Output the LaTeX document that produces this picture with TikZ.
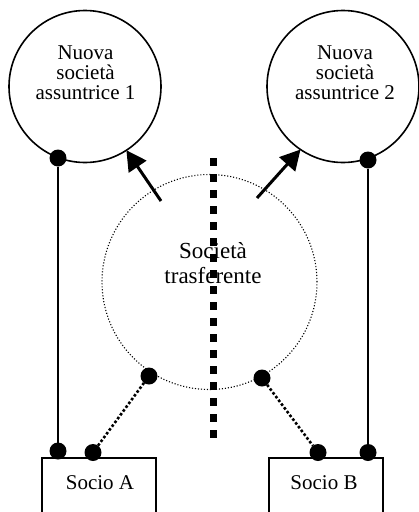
\documentclass[tikz,border=0pt]{standalone}
\usepackage{fontspec}
\setmainfont{Liberation Serif}
\usetikzlibrary{arrows.meta}
\begin{document}
\begin{tikzpicture}[x=1pt,y=-1pt,
  company/.style={circle, draw, line width=1.6pt, minimum size=152pt, inner sep=0pt, outer sep=0pt},
  transferor/.style={circle, draw, line width=1.1pt, dash pattern=on 1.1pt off 1.9pt, minimum size=215pt, inner sep=0pt, outer sep=0pt},
  partner/.style={rectangle, draw, line width=1.6pt, minimum width=114pt, minimum height=70pt, anchor=north, inner sep=0pt},
  joint/.style={circle, fill, minimum size=17pt, inner sep=0pt, outer sep=0pt},
  txt/.style={font=\fontsize{21}{20}\selectfont, align=center, inner sep=0pt},
  bigtxt/.style={font=\fontsize{23}{25}\selectfont, align=center, inner sep=0pt},
  holding/.style={line width=1.6pt},
  share/.style={line width=2.6pt, dash pattern=on 2.6pt off 2.1pt},
  transfer/.style={line width=3pt, -{Triangle[length=20pt, width=21pt]}},
  split/.style={line width=7pt, dash pattern=on 8pt off 8pt}
]
\useasboundingbox (0,0) rectangle (419,512);

% companies
\node[company] (n1) at (85,86.5) {};
\node[company] (n2) at (343,86.5) {};
\node[transferor] (t) at (209.5,282) {};

% partners
\node[partner] (a) at (98.9,457) {};
\node[partner] (b) at (326,457) {};

% texts
\node[txt] (l1) at (85.5,73) {Nuova\\società\\assuntrice 1};
\node[txt] (l2) at (345,73) {Nuova\\società\\assuntrice 2};
\node[bigtxt] (l3) at (213,262.7) {Società\\trasferente};
\node[txt] (la) at (100,483) {Socio A};
\node[txt] (lb) at (324,483) {Socio B};

% split line
\coordinate (s1) at (213,158);
\coordinate (s2) at (213,438);
\draw[split] (s1) -- (s2);

% joints
\node[joint] (p1) at (58,158) {};
\node[joint] (p2) at (368,160) {};
\node[joint] (p3) at (58,451) {};
\node[joint] (p4) at (93,452.5) {};
\node[joint] (p5) at (318,452.5) {};
\node[joint] (p6) at (368,452.5) {};
\node[joint] (q1) at (149,376) {};
\node[joint] (q2) at (262,378) {};

% holdings
\draw[holding] (p1) -- (p3);
\draw[holding] (p2) -- (p6);
\draw[share] (q1) -- (p4);
\draw[share] (q2) -- (p5);

% transfers
\coordinate (c1) at (161,201);
\coordinate (c2) at (257,198);
\draw[transfer] (c1) -- (n1.-57);
\draw[transfer] (c2) -- (n2.-124);
\end{tikzpicture}
\end{document}
